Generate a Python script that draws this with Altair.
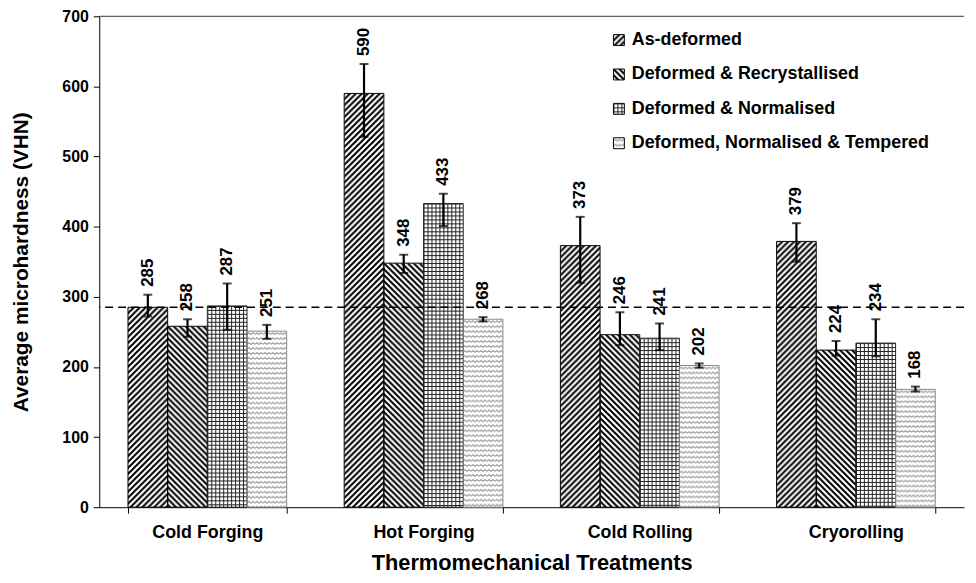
import altair as alt
import pandas as pd
from urllib.parse import quote

# ---------------- data ----------------
categories = ["Cold Forging", "Hot Forging", "Cold Rolling", "Cryorolling"]
series = ["As-deformed", "Deformed & Recrystallised", "Deformed & Normalised",
          "Deformed, Normalised & Tempered"]

as_deformed = [285, 590, 373, 379]
recrystallised = [258, 348, 246, 224]
normalised = [287, 433, 241, 234]
tempered = [251, 268, 202, 168]

as_deformed_lo = [272, 528, 320, 350]
as_deformed_hi = [303, 632, 414, 405]
recrystallised_lo = [243, 334, 231, 216]
recrystallised_hi = [268, 360, 278, 237]
normalised_lo = [253, 401, 224, 215]
normalised_hi = [319, 447, 262, 268]
tempered_lo = [240, 265, 199, 165]
tempered_hi = [260, 271, 205, 172]

reference_value = [285]
y_ticks = [0, 100, 200, 300, 400, 500, 600, 700]

# ---------------- pattern fills (style) ----------------
def pattern_url(w, h, body):
    svg = ('<svg xmlns="http://www.w3.org/2000/svg" width="100%" height="100%">'
           '<defs><pattern id="p" patternUnits="userSpaceOnUse" width="{w}" height="{h}">{b}</pattern></defs>'
           '<rect width="100%" height="100%" fill="white"/>'
           '<rect width="100%" height="100%" fill="url(#p)"/></svg>').format(w=w, h=h, b=body)
    return "data:image/svg+xml;charset=utf-8," + quote(svg)

patterns = {
    series[0]: pattern_url(6, 6, '<path d="M0,6 L6,0 M-3,3 L3,-3 M3,9 L9,3" stroke="black" stroke-width="2"/>'),
    series[1]: pattern_url(6, 6, '<path d="M0,0 L6,6 M-3,3 L3,9 M3,-3 L9,3" stroke="black" stroke-width="2"/>'),
    series[2]: pattern_url(4, 4, '<path d="M0,0.5 H4 M0.5,0 V4" stroke="#222" stroke-width="1"/>'),
    series[3]: pattern_url(8, 5, '<path d="M0,3.5 L2,1.5 L4,3.5 L6,1.5 L8,3.5" fill="none" stroke="#555" stroke-width="1"/>'),
}
outline = {series[0]: "#000", series[1]: "#000", series[2]: "#222", series[3]: "#888"}

# ---------------- table ----------------
vals = [as_deformed, recrystallised, normalised, tempered]
los = [as_deformed_lo, recrystallised_lo, normalised_lo, tempered_lo]
his = [as_deformed_hi, recrystallised_hi, normalised_hi, tempered_hi]
rows = []
for si, s in enumerate(series):
    for ci, c in enumerate(categories):
        rows.append({"category": c, "series": s, "value": vals[si][ci],
                     "lo": los[si][ci], "hi": his[si][ci], "url": patterns[s]})
df = pd.DataFrame(rows)
legend_df = pd.DataFrame({"series": series, "url": [patterns[s] for s in series]})

FONT = "Liberation Sans"
W, H = 872, 495

x = alt.X("category:N", sort=categories,
          scale=alt.Scale(paddingInner=0.266, paddingOuter=0.133),
          axis=alt.Axis(title="Thermomechanical Treatments", labelAngle=0, tickBand="extent",
                        tickSize=6, labelPadding=11, labelFontSize=18, labelFontWeight="bold",
                        labelColor="black", domainColor="black", tickColor="black",
                        titleFontSize=22, titleFontWeight="bold", titleColor="black",
                        titleY=56, titleBaseline="middle", labelFont=FONT, titleFont=FONT))
xo = alt.XOffset("series:N", sort=series)
y = alt.Y("value:Q", scale=alt.Scale(domain=[0, 700], nice=False),
          axis=alt.Axis(title="Average microhardness (VHN)", values=y_ticks, grid=False,
                        tickSize=6, labelPadding=5, labelFontSize=16, labelFontWeight="bold",
                        labelColor="black", domainColor="black", tickColor="black",
                        titleFontSize=21, titleFontWeight="bold", titleColor="black",
                        titleX=-78, titleY=H / 2, titleBaseline="middle", titleAlign="center",
                        labelFont=FONT, titleFont=FONT))

base = alt.Chart(df)

fills = base.mark_image(aspect=False).encode(x=x, xOffset=xo, y=y, y2=alt.datum(0), url="url:N")
outlines = base.mark_bar(fillOpacity=0, strokeWidth=1).encode(
    x=x, xOffset=xo, y=y, y2=alt.datum(0),
    stroke=alt.Stroke("series:N", scale=alt.Scale(domain=series, range=[outline[s] for s in series]),
                      legend=None))

err = base.mark_rule(color="black", strokeWidth=2.2).encode(
    x=x, xOffset=xo, y=alt.Y("lo:Q"), y2="hi:Q")
cap_lo = base.mark_tick(orient="horizontal", color="black", size=9, thickness=2).encode(
    x=x, xOffset=xo, y=alt.Y("lo:Q"))
cap_hi = base.mark_tick(orient="horizontal", color="black", size=9, thickness=2).encode(
    x=x, xOffset=xo, y=alt.Y("hi:Q"))
labels = base.mark_text(angle=270, align="left", baseline="middle", dx=8, fontSize=17,
                        fontWeight="bold", font="Liberation Sans Narrow, Liberation Sans",
                        color="black").encode(
    x=x, xOffset=xo, y=alt.Y("hi:Q"), text="value:Q")

ref = alt.Chart(pd.DataFrame({"ref": reference_value})).mark_rule(
    color="black", strokeDash=[8, 5], strokeWidth=1.5).encode(y="ref:Q")
top = alt.Chart(pd.DataFrame({"top": [y_ticks[-1]]})).mark_rule(
    color="#333", strokeWidth=1).encode(y="top:Q")

main = alt.layer(fills, outlines, ref, top, err, cap_lo, cap_hi, labels)

ly = alt.Y("series:N", sort=series, axis=None,
           scale=alt.Scale(type="point", range=[24, 128], padding=0))
leg_img = alt.Chart(legend_df).mark_image(width=11, height=11, aspect=False,
                                          align="center", baseline="middle").encode(
    x=alt.value(524), y=ly, url="url:N")
leg_box = alt.Chart(legend_df).mark_square(size=121, filled=False, color="black",
                                           strokeWidth=1, opacity=1).encode(
    x=alt.value(524), y=ly)
leg_txt = alt.Chart(legend_df).mark_text(align="left", baseline="middle", fontSize=18,
                                         fontWeight="bold", font=FONT, color="black").encode(
    x=alt.value(537), y=ly, text="series:N")
legend = alt.layer(leg_img, leg_box, leg_txt)

chart = alt.layer(main, legend).resolve_scale(y="independent").properties(
    width=W, height=H,
    autosize=alt.AutoSizeParams(type="none"),
    padding={"left": 92, "top": 6, "right": 4, "bottom": 66},
    background="white",
).configure_view(stroke=None)

chart.save("out.html", embed_options={"renderer": "svg", "actions": False})
